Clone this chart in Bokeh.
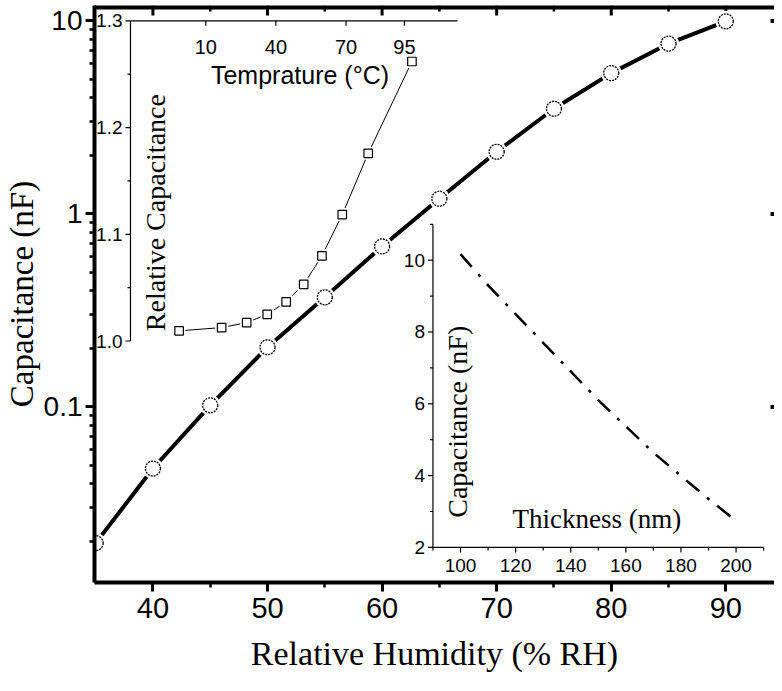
import numpy as np
from bokeh.plotting import figure
from bokeh.models import Range1d, LinearScale, FixedTicker, CustomJSTickFormatter
from bokeh.core.properties import value
from bokeh.embed import file_html
from bokeh.resources import INLINE

# ---------------- data ----------------
# main curve: capacitance vs relative humidity
rh = [35, 40, 45, 50, 55, 60, 65, 70, 75, 80, 85, 90]
cap = [0.0197, 0.048, 0.102, 0.204, 0.370, 0.679, 1.20, 2.10, 3.51, 5.37, 7.63, 9.96]
rh_ticks = [40, 50, 60, 70, 80, 90]
rh_minor = [45, 55, 65, 75, 85]
cap_ticks = [0.1, 1, 10]

# inset 1: relative capacitance vs temperature
temp = [-1.4, 16.8, 27.5, 36.3, 44.4, 51.9, 59.7, 68.4, 79.5, 98.2]
rel_cap = [1.0095, 1.0126, 1.0172, 1.025, 1.0366, 1.0531, 1.0798, 1.1185, 1.1759, 1.2619]
temp_ticks = [10, 40, 70, 95]
rel_ticks = [1.0, 1.1, 1.2, 1.3]
rel_minor = [1.05, 1.15, 1.25]
temp_lim = (-22.2, 117.7)
rel_lim = (1.0, 1.3)

# inset 2: capacitance vs thickness
thick = [100, 110, 120, 130, 140, 150, 160, 170, 180, 190, 198]
cap_t = [10.17, 9.3, 8.5, 7.7, 6.9, 6.1, 5.37, 4.64, 3.99, 3.35, 2.86]
thick_ticks = [100, 120, 140, 160, 180, 200]
thick_minor = [90, 110, 130, 150, 170, 190, 210]
cap_t_ticks = [2, 4, 6, 8, 10]
cap_t_minor = [3, 5, 7, 9, 11]
thick_lim = (90, 210)
cap_t_lim = (2, 11)

SANS = "Liberation Sans"
SERIF = "Liberation Serif"

p = figure(width=774, height=683, output_backend="svg", toolbar_location=None,
           x_range=Range1d(34.9, 94.25), y_range=Range1d(0.01232, 12.03),
           y_axis_type="log")
p.min_border = 0
p.min_border_left = 89
p.min_border_right = 0
p.min_border_top = 5
p.min_border_bottom = 101
p.outline_line_color = None
p.grid.visible = False
p.background_fill_color = "white"
p.border_fill_color = "white"

minor_log = [m * 10.0 ** k for k in range(-2, 1) for m in range(2, 10)]

# bottom axis
xa = p.below[0]
xa.ticker = FixedTicker(ticks=rh_ticks, minor_ticks=rh_minor)
xa.axis_line_width = 4
xa.major_tick_out = 9
xa.major_tick_in = 0
xa.major_tick_line_width = 3
xa.minor_tick_out = 5
xa.minor_tick_in = 0
xa.minor_tick_line_width = 2.5
xa.major_label_standoff = 6
xa.major_label_text_font = SANS
xa.major_label_text_font_size = "29px"
xa.major_label_text_color = "black"
xa.axis_label = "Relative Humidity (% RH)"
xa.axis_label_text_font = SERIF
xa.axis_label_text_font_size = "34px"
xa.axis_label_text_font_style = "normal"
xa.axis_label_text_color = "black"
xa.axis_label_standoff = 14

# left axis
ya = p.left[0]
ya.ticker = FixedTicker(ticks=cap_ticks, minor_ticks=minor_log)
ya.formatter = CustomJSTickFormatter(code="return tick.toString()")
ya.axis_line_width = 4
ya.major_tick_out = 9
ya.major_tick_in = 0
ya.major_tick_line_width = 3
ya.minor_tick_out = 5
ya.minor_tick_in = 0
ya.minor_tick_line_width = 2.5
ya.major_label_standoff = 3
ya.major_label_text_font = SANS
ya.major_label_text_font_size = "28px"
ya.major_label_text_color = "black"
ya.axis_label = "Capacitance (nF)"
ya.axis_label_text_font = SERIF
ya.axis_label_text_font_size = "33px"
ya.axis_label_text_font_style = "normal"
ya.axis_label_text_color = "black"
ya.axis_label_standoff = 1

x_lo, x_hi = p.x_range.start, p.x_range.end
y_lo, y_hi = p.y_range.start, p.y_range.end

# top frame line (half of it is clipped by the frame) with inward ticks
p.segment(x0=[x_lo], y0=[y_hi], x1=[x_hi], y1=[y_hi], line_color="black", line_width=8)
p.ray(x=rh_ticks, y=[y_hi] * len(rh_ticks), length=10, length_units="screen",
      angle=-np.pi / 2, line_color="black", line_width=3)
p.ray(x=rh_minor, y=[y_hi] * len(rh_minor), length=6, length_units="screen",
      angle=-np.pi / 2, line_color="black", line_width=2.5)
# right side inward ticks (frame line lies just outside the picture)
p.ray(x=[x_hi] * len(cap_ticks), y=cap_ticks, length=4, length_units="screen",
      angle=np.pi, line_color="black", line_width=4)

# extra ranges for insets
p.extra_x_ranges = {"temp": Range1d(-37.59, 253.29), "thk": Range1d(-32.82, 213.94)}
p.extra_y_ranges = {"rel": Range1d(0.7737, 1.3144), "cap2": Range1d(1.022, 17.095)}
p.extra_x_scales = {"temp": LinearScale(), "thk": LinearScale()}
p.extra_y_scales = {"rel": LinearScale(), "cap2": LinearScale()}

# ---------------- main curve ----------------
p.line(rh, cap, line_color="black", line_width=4, line_join="round")
p.scatter(rh, cap, marker="circle", size=21, fill_color="white", line_color=None)
p.scatter(rh, cap, marker="circle", size=15, fill_color="white", line_color="black",
          line_width=1.3, line_dash="2 1")

# ---------------- inset 1 ----------------
r1 = dict(x_range_name="temp", y_range_name="rel")
t0, t1 = temp_lim
q0, q1 = rel_lim
p.segment(x0=[t0, t0], y0=[q0, q1], x1=[t0, t1], y1=[q1, q1], line_color="black",
          line_width=1.2, **r1)
p.ray(x=[t0] * len(rel_ticks), y=rel_ticks, length=5, length_units="screen", angle=np.pi,
      line_color="black", line_width=1.2, **r1)
p.ray(x=[t0] * len(rel_minor), y=rel_minor, length=3, length_units="screen", angle=np.pi,
      line_color="black", line_width=1.2, **r1)
p.ray(x=temp_ticks, y=[q1] * len(temp_ticks), length=5, length_units="screen",
      angle=-np.pi / 2, line_color="black", line_width=1.2, **r1)
p.text(x=[t0] * len(rel_ticks), y=rel_ticks, text=[f"{v:.1f}" for v in rel_ticks],
       x_offset=-8, text_align="right", text_baseline="middle",
       text_font=value(SANS), text_font_size=value("19px"), text_color="black", **r1)
p.text(x=temp_ticks, y=[q1] * len(temp_ticks), text=[str(v) for v in temp_ticks],
       y_offset=26, text_align="center", text_baseline="middle",
       text_font=value(SANS), text_font_size=value("20px"), text_color="black", **r1)
p.text(x=[50.3], y=[1.2497], text=["Temprature (°C)"], text_align="center",
       text_baseline="middle", text_font=value(SANS), text_font_size=value("25px"),
       text_color="black", **r1)
p.text(x=[-11.3], y=[1.1203], text=["Relative Capacitance"], angle=np.pi / 2,
       text_align="center", text_baseline="middle", text_font=value(SERIF),
       text_font_size=value("28px"), text_color="black", **r1)
p.line(temp, rel_cap, line_color="black", line_width=1, **r1)
p.scatter(temp, rel_cap, marker="square", size=13, fill_color="white", line_color=None, **r1)
p.scatter(temp, rel_cap, marker="square", size=8.5, fill_color="white", line_color="black",
          line_width=1.2, **r1)

# ---------------- inset 2 ----------------
r2 = dict(x_range_name="thk", y_range_name="cap2")
n0, n1 = thick_lim
c0, c1 = cap_t_lim
p.segment(x0=[n0, n0], y0=[c0, c0], x1=[n0, n1], y1=[c1, c0], line_color="black",
          line_width=1.2, **r2)
p.ray(x=thick_ticks, y=[c0] * len(thick_ticks), length=5, length_units="screen",
      angle=-np.pi / 2, line_color="black", line_width=1.2, **r2)
p.ray(x=thick_minor, y=[c0] * len(thick_minor), length=3, length_units="screen",
      angle=-np.pi / 2, line_color="black", line_width=1.2, **r2)
p.ray(x=[n0] * len(cap_t_ticks), y=cap_t_ticks, length=5, length_units="screen",
      angle=np.pi, line_color="black", line_width=1.2, **r2)
p.ray(x=[n0] * len(cap_t_minor), y=cap_t_minor, length=3, length_units="screen",
      angle=np.pi, line_color="black", line_width=1.2, **r2)
p.text(x=thick_ticks, y=[c0] * len(thick_ticks), text=[str(v) for v in thick_ticks],
       y_offset=18, text_align="center", text_baseline="middle",
       text_font=value(SANS), text_font_size=value("19px"), text_color="black", **r2)
p.text(x=[n0] * len(cap_t_ticks), y=cap_t_ticks, text=[str(v) for v in cap_t_ticks],
       x_offset=-8, text_align="right", text_baseline="middle",
       text_font=value(SANS), text_font_size=value("19px"), text_color="black", **r2)
p.text(x=[99.0], y=[5.5], text=["Capacitance (nF)"], angle=np.pi / 2,
       text_align="center", text_baseline="middle", text_font=value(SERIF),
       text_font_size=value("28px"), text_color="black", **r2)
p.text(x=[149.5], y=[2.78], text=["Thickness (nm)"], text_align="center",
       text_baseline="middle", text_font=value(SERIF), text_font_size=value("27px"),
       text_color="black", **r2)
p.line(thick, cap_t, line_color="black", line_width=2.5, line_dash="17 10 3 10", **r2)

open("out.html", "w").write(file_html(p, INLINE))
